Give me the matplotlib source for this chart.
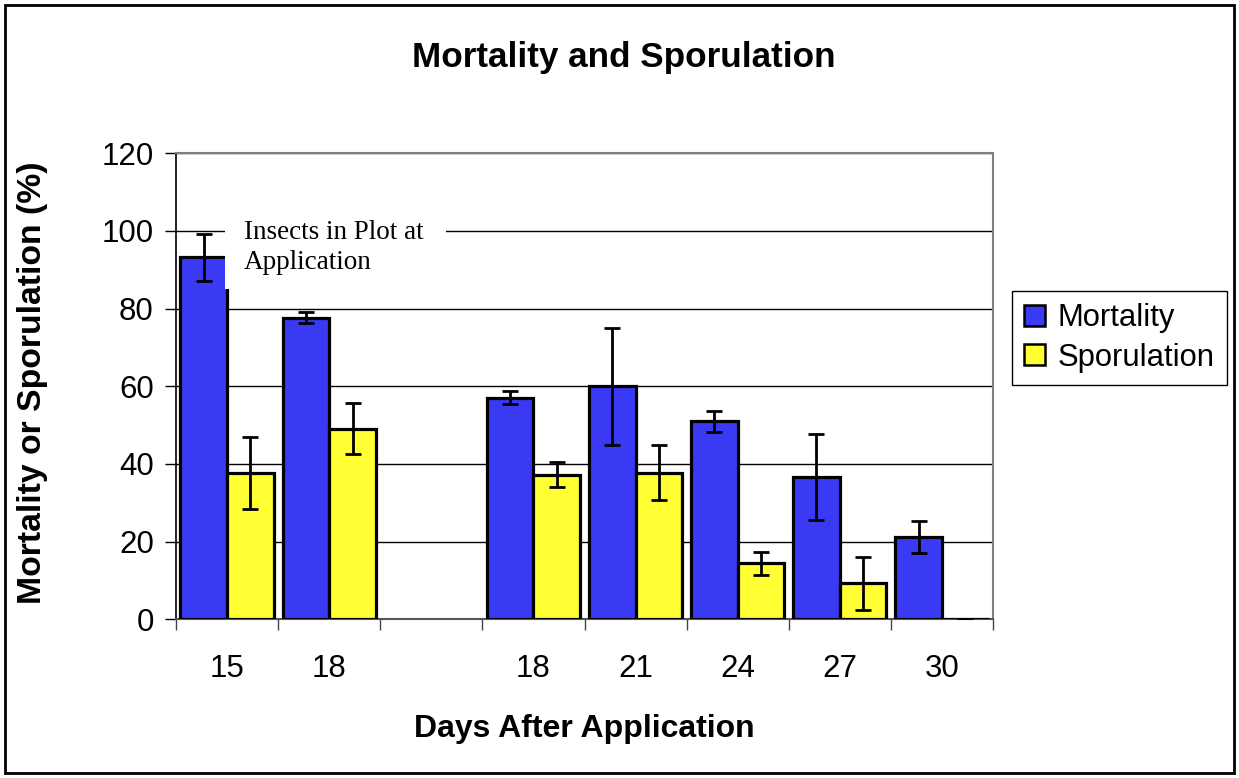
import matplotlib
matplotlib.use("Agg")
import matplotlib.pyplot as plt
import numpy as np
from matplotlib.patches import Rectangle

# ---- data ----
categories = ["15", "18", "", "18", "21", "24", "27", "30"]
mortality = [93.2, 77.7, np.nan, 57.1, 60.0, 51.0, 36.6, 21.2]
mortality_err = [6.0, 1.5, np.nan, 1.7, 15.0, 2.7, 11.1, 4.0]
sporulation = [37.7, 49.1, np.nan, 37.2, 37.8, 14.4, 9.3, 0.0]
sporulation_err = [9.2, 6.5, np.nan, 3.2, 7.2, 2.9, 6.8, 0.0]
series_names = ["Mortality", "Sporulation"]
yticks = [0, 20, 40, 60, 80, 100, 120]

W, H = 1239, 778
fig = plt.figure(figsize=(W / 100, H / 100), dpi=100)
fig.patch.set_facecolor("white")

def fx(px):
    return px / W

def fy(py):
    return 1 - py / H

ax = fig.add_axes([fx(176), fy(619.3), fx(993) - fx(176), (619.3 - 153.3) / H])
ax.set_facecolor("white")

x = np.arange(len(categories))
w = 0.457
blue = "#3a3af4"
yellow = "#ffff33"

b1 = ax.bar(x - w / 2, mortality, w, color=blue, edgecolor="black", linewidth=2.3, zorder=3)
b2 = ax.bar(x + w / 2, sporulation, w, color=yellow, edgecolor="black", linewidth=2.3, zorder=3)

ekw = dict(fmt="none", ecolor="black", elinewidth=2.0, capsize=6, capthick=2.0, zorder=5)
ax.errorbar(x - w / 2, mortality, yerr=mortality_err, **ekw)
ax.errorbar(x + w / 2, sporulation, yerr=sporulation_err, **ekw)

ax.set_xlim(-0.5, len(categories) - 0.5)
ax.set_ylim(0, 120)
ax.set_yticks(yticks)
ax.set_yticklabels([str(t) for t in yticks], fontsize=22.5, family="Liberation Sans")
ax.yaxis.grid(True, color="black", linewidth=1.0, zorder=0)
ax.set_axisbelow(True)

ax.set_xticks(x)
ax.set_xticklabels(categories, fontsize=22.5, family="Liberation Sans")
ax.set_xticks(np.arange(-0.5, len(categories)), minor=True)
ax.tick_params(axis="x", which="major", length=0, pad=25)
ax.tick_params(axis="x", which="minor", length=8, width=1.0, color="#444444", direction="out")
ax.tick_params(axis="y", which="major", length=8, width=1.0, direction="out", pad=8)

for s in ["top", "right"]:
    ax.spines[s].set_color("#808080")
    ax.spines[s].set_linewidth(1.5)
ax.spines["left"].set_color("black")
ax.spines["left"].set_linewidth(1.2)
ax.spines["bottom"].set_color("#555555")
ax.spines["bottom"].set_linewidth(1.5)

# title and axis labels
fig.text(fx(624), fy(67), "Mortality and Sporulation", ha="center", va="baseline",
         fontsize=25.3, fontweight="bold", family="Liberation Sans")
fig.text(fx(584), fy(737), "Days After Application", ha="center", va="baseline",
         fontsize=23, fontweight="bold", family="Liberation Sans")
fig.text(fx(33), fy(383), "Mortality or Sporulation (%)", ha="center", va="center",
         rotation=90, fontsize=24.3, fontweight="bold", family="Liberation Sans")

# annotation text box (white background covering part of the plot)
fig.patches.append(Rectangle((fx(225), fy(289)), fx(446) - fx(225), (289 - 212) / H,
                             transform=fig.transFigure, facecolor="white",
                             edgecolor="none", zorder=4))
ax.set_zorder(1)
fig.text(fx(244), fy(239), "Insects in Plot at", ha="left", va="baseline",
         fontsize=19.5, family="Liberation Serif", zorder=10)
fig.text(fx(244), fy(269), "Application", ha="left", va="baseline",
         fontsize=19.5, family="Liberation Serif", zorder=10)

# legend
leg = fig.legend([b1, b2], series_names, loc="upper left",
                 bbox_to_anchor=(fx(1012), fy(291)), bbox_transform=fig.transFigure,
                 prop={"family": "Liberation Sans", "size": 22.3},
                 frameon=True, fancybox=False, edgecolor="black", framealpha=1,
                 handlelength=0.68, handleheight=0.68, handletextpad=0.38,
                 borderpad=0.4, labelspacing=0.3, borderaxespad=0)
leg.get_frame().set_linewidth(1.0)
for h in leg.legend_handles:
    h.set_linewidth(1.8)

# outer border
fig.patches.append(Rectangle((fx(5), fy(773)), fx(1234) - fx(5), (773 - 5) / H,
                             transform=fig.transFigure, facecolor="none",
                             edgecolor="black", linewidth=2.0, zorder=20))

fig.savefig("out.png", dpi=100, facecolor="white")
